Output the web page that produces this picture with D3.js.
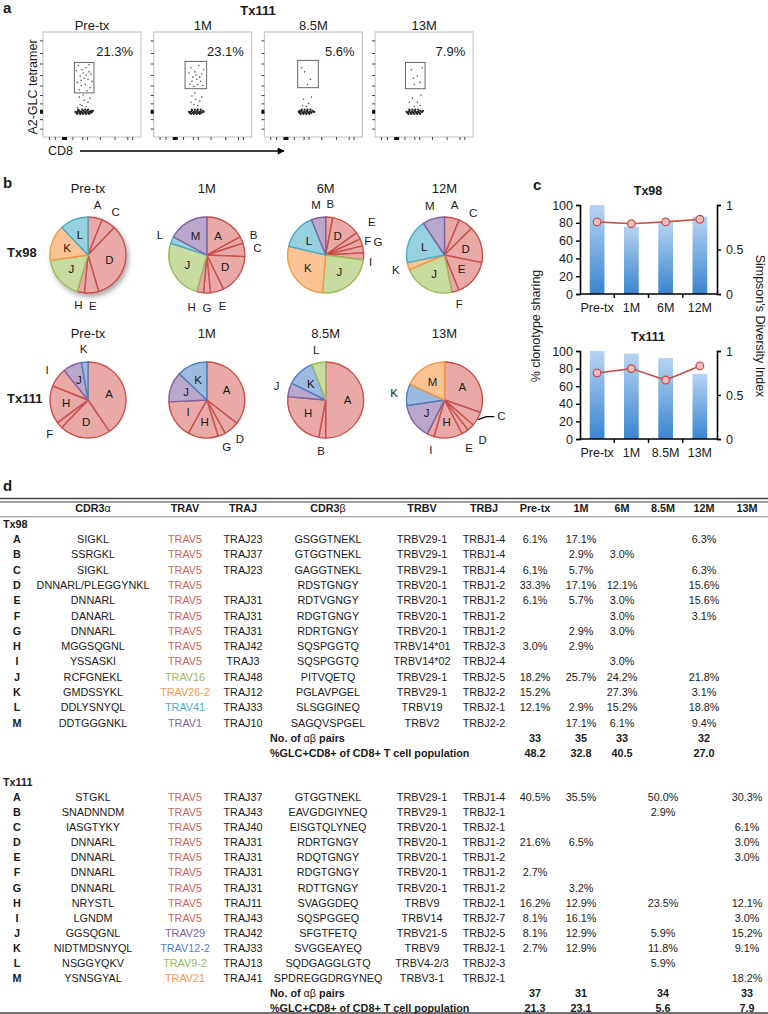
<!DOCTYPE html>
<html><head><meta charset="utf-8">
<script src="https://cdn.jsdelivr.net/npm/d3@7"></script>
<style>body{margin:0;background:#fff} svg{display:block;font-family:Arial,"Liberation Sans",sans-serif}</style>
</head><body><svg id="fig" width="768" height="1014"></svg>
<script>
// ---------------- DATA ----------------
// panel a (flow cytometry, Tx111)
const flowTimepoints = ["Pre-tx","1M","8.5M","13M"];
const flowPercents = ["21.3%","23.1%","5.6%","7.9%"];
const flowGates = [[32,52,42,71],[32,54,46,72],[34,55,47,73],[31,51,46,71]];
const flowYTicks = [8,17,24,32,40,49,59,70,80,92];
const flowXTicks = [6,12,22,30,40,45,58,73,86,91];
const dotsPreTx = [[36,68],[40,64],[44,66],[47,62],[38,58],[42,56],[46,55],[49,60],[35,52],[39,49],[43,50],[48,47],[37,45],[45,44],[41,61],[50,53],[44,59],[39,54],[34,63],[47,69],
 [37,38],[42,35],[46,33],[40,30],[44,29],[38,31],[48,37],[35,28],[41,40],
 [33,24],[34,23],[35,24],[36,25],[37,23],[38,24],[39,24],[40,23],[41,25],[42,24],[43,23],[44,24],[45,25],[46,23],[47,24],[48,24],[49,23],[50,24],[51,25],[35,22],[38,22],[41,22],[44,22],[47,22],[36,26],[40,26],[43,26],[46,26],[49,25],[37,25]];
const dots1M = [[38,66],[42,62],[46,68],[49,60],[40,57],[44,55],[48,53],[51,64],[37,50],[41,48],[45,50],[50,49],[43,59],[39,53],[47,57],[36,61],
 [39,39],[43,36],[47,34],[41,31],[45,30],[38,33],[49,38],[42,42],
 [36,24],[37,23],[38,24],[39,25],[40,23],[41,24],[42,24],[43,23],[44,25],[45,24],[46,23],[47,24],[48,24],[49,23],[50,25],[38,22],[41,22],[44,22],[47,22],[39,26],[42,26],[45,26],[48,26],[51,24]];
const dots85M = [[41,62],[47,55],[44,50],[38,66],
 [40,36],[45,32],[43,29],[48,38],[39,30],
 [35,24],[36,23],[37,24],[38,25],[39,23],[40,24],[41,24],[42,23],[43,25],[44,24],[45,23],[46,24],[47,24],[48,23],[49,25],[50,24],[37,22],[40,22],[43,22],[46,22],[38,26],[41,26],[44,26],[47,26],[51,24],[36,25]];
const dots13M = [[37,64],[43,58],[46,52],[40,50],[48,66],[39,56],
 [38,37],[43,33],[46,30],[40,29],[35,33],[47,40],
 [32,24],[33,23],[34,24],[35,25],[36,23],[37,24],[38,24],[39,23],[40,25],[41,24],[42,23],[43,24],[44,24],[45,23],[46,25],[47,24],[48,24],[34,22],[37,22],[40,22],[43,22],[46,22],[35,26],[38,26],[41,26],[44,26],[49,25]];

// panel d / b: clone table
const cloneLetters = ["A","B","C","D","E","F","G","H","I","J","K","L","M"];
const tx98Timepoints = ["Pre-tx","1M","6M","12M"];
const tx111Timepoints = ["Pre-tx","1M","8.5M","13M"];
const tableTimepoints = ["Pre-tx","1M","6M","8.5M","12M","13M"];

const tx98CDR3a = ["SIGKL","SSRGKL","SIGKL","DNNARL/PLEGGYNKL","DNNARL","DANARL","DNNARL","MGGSQGNL","YSSASKI","RCFGNEKL","GMDSSYKL","DDLYSNYQL","DDTGGGNKL"];
const tx98TRAV = ["TRAV5","TRAV5","TRAV5","TRAV5","TRAV5","TRAV5","TRAV5","TRAV5","TRAV5","TRAV16","TRAV26-2","TRAV41","TRAV1"];
const tx98TRAJ = ["TRAJ23","TRAJ37","TRAJ23","","TRAJ31","TRAJ31","TRAJ31","TRAJ42","TRAJ3","TRAJ48","TRAJ12","TRAJ33","TRAJ10"];
const tx98CDR3b = ["GSGGTNEKL","GTGGTNEKL","GAGGTNEKL","RDSTGNGY","RDTVGNGY","RDGTGNGY","RDRTGNGY","SQSPGGTQ","SQSPGGTQ","PITVQETQ","PGLAVPGEL","SLSGGINEQ","SAGQVSPGEL"];
const tx98TRBV = ["TRBV29-1","TRBV29-1","TRBV29-1","TRBV20-1","TRBV20-1","TRBV20-1","TRBV20-1","TRBV14*01","TRBV14*02","TRBV29-1","TRBV29-1","TRBV19","TRBV2"];
const tx98TRBJ = ["TRBJ1-4","TRBJ1-4","TRBJ1-4","TRBJ1-2","TRBJ1-2","TRBJ1-2","TRBJ1-2","TRBJ2-3","TRBJ2-4","TRBJ2-5","TRBJ2-2","TRBJ2-1","TRBJ2-2"];
const tx98PreTx = [6.1,null,6.1,33.3,6.1,null,null,3.0,null,18.2,15.2,12.1,null];
const tx98M1    = [17.1,2.9,5.7,17.1,5.7,null,2.9,2.9,null,25.7,null,2.9,17.1];
const tx98M6    = [null,3.0,null,12.1,3.0,3.0,3.0,null,3.0,24.2,27.3,15.2,6.1];
const tx98M12   = [6.3,null,6.3,15.6,15.6,3.1,null,null,null,21.8,3.1,18.8,9.4];
const tx98Pairs = [33,35,33,32];
const tx98GLC   = ["48.2","32.8","40.5","27.0"];

const tx111CDR3a = ["STGKL","SNADNNDM","IASGTYKY","DNNARL","DNNARL","DNNARL","DNNARL","NRYSTL","LGNDM","GGSQGNL","NIDTMDSNYQL","NSGGYQKV","YSNSGYAL"];
const tx111TRAV = ["TRAV5","TRAV5","TRAV5","TRAV5","TRAV5","TRAV5","TRAV5","TRAV5","TRAV5","TRAV29","TRAV12-2","TRAV9-2","TRAV21"];
const tx111TRAJ = ["TRAJ37","TRAJ43","TRAJ40","TRAJ31","TRAJ31","TRAJ31","TRAJ31","TRAJ11","TRAJ43","TRAJ42","TRAJ33","TRAJ13","TRAJ41"];
const tx111CDR3b = ["GTGGTNEKL","EAVGDGIYNEQ","EISGTQLYNEQ","RDRTGNGY","RDQTGNGY","RDGTGNGY","RDTTGNGY","SVAGGDEQ","SQSPGGEQ","SFGTFETQ","SVGGEAYEQ","SQDGAGGLGTQ","SPDREGGDRGYNEQ"];
const tx111TRBV = ["TRBV29-1","TRBV29-1","TRBV20-1","TRBV20-1","TRBV20-1","TRBV20-1","TRBV20-1","TRBV9","TRBV14","TRBV21-5","TRBV9","TRBV4-2/3","TRBV3-1"];
const tx111TRBJ = ["TRBJ1-4","TRBJ2-1","TRBJ2-1","TRBJ1-2","TRBJ1-2","TRBJ1-2","TRBJ1-2","TRBJ2-1","TRBJ2-7","TRBJ2-5","TRBJ2-1","TRBJ2-3","TRBJ2-1"];
const tx111PreTx = [40.5,null,null,21.6,null,2.7,null,16.2,8.1,8.1,2.7,null,null];
const tx111M1    = [35.5,null,null,6.5,null,null,3.2,12.9,16.1,12.9,12.9,null,null];
const tx111M85   = [50.0,2.9,null,null,null,null,null,23.5,null,5.9,11.8,5.9,null];
const tx111M13   = [30.3,null,6.1,3.0,3.0,null,null,12.1,3.0,15.2,9.1,null,18.2];
const tx111Pairs = [37,31,34,33];
const tx111GLC   = ["21.3","23.1","5.6","7.9"];

// panel c
const tx98Sharing  = [100,76,81,87];
const tx98Simpson  = [0.81,0.79,0.81,0.84];
const tx111Sharing = [100,97,92,74];
const tx111Simpson = [0.75,0.80,0.67,0.83];

// ---------------- STYLE ----------------
const travColors = {
  "TRAV5":   {fill:"#e8a9a7", stroke:"#c9504d", text:"#d0625e"},
  "TRAV16":  {fill:"#c8dca2", stroke:"#9bbb59", text:"#9bbb59"},
  "TRAV26-2":{fill:"#fbc495", stroke:"#f79646", text:"#f79646"},
  "TRAV41":  {fill:"#97d0de", stroke:"#4bacc6", text:"#4bacc6"},
  "TRAV1":   {fill:"#b9a8cc", stroke:"#8064a2", text:"#8064a2"},
  "TRAV29":  {fill:"#b9a8cc", stroke:"#8064a2", text:"#8064a2"},
  "TRAV12-2":{fill:"#9dbbe0", stroke:"#4f81bd", text:"#4f81bd"},
  "TRAV9-2": {fill:"#c8dca2", stroke:"#9bbb59", text:"#9bbb59"},
  "TRAV21":  {fill:"#fbc495", stroke:"#f79646", text:"#f79646"}
};
// small nudges for crowded outside pie labels (pixels)
const labelNudges = {
  "Tx98|1M|H":[-6,2], "Tx98|1M|G":[0,2], "Tx98|1M|E":[2,2],
  "Tx98|6M|E":[2,-7], "Tx98|6M|F":[-6,3], "Tx98|6M|G":[2,-5], "Tx98|6M|I":[-6,5],
  "Tx111|13M|D":[3,3], "Tx111|13M|E":[-3,5], "Tx111|13M|I":[5,3]
};
const ink = "#1a1a1a";
const svg = d3.select("#fig");
const defs = svg.append("defs");
defs.append("marker").attr("id","arrow").attr("viewBox","0 0 10 10").attr("refX",9).attr("refY",5)
  .attr("markerWidth",9).attr("markerHeight",7).attr("markerUnits","userSpaceOnUse").attr("orient","auto")
  .append("path").attr("d","M0,0 L10,5 L0,10 z").attr("fill","#000");
const grad = defs.append("linearGradient").attr("id","barGrad").attr("x1",0).attr("y1",0).attr("x2",0).attr("y2",1);
grad.append("stop").attr("offset","0%").attr("stop-color","#b6d4f2");
grad.append("stop").attr("offset","100%").attr("stop-color","#3a85cf");
const shadow = defs.append("filter").attr("id","shadow").attr("x","-30%").attr("y","-30%").attr("width","170%").attr("height","170%");
shadow.append("feDropShadow").attr("dx",2).attr("dy",3).attr("stdDeviation",2.5).attr("flood-color","#000").attr("flood-opacity",0.35);

function label(t,x,y,opts={}) {
  return svg.append("text").attr("x",x).attr("y",y).text(t)
    .attr("font-size",opts.size||13).attr("font-weight",opts.bold?"bold":"normal")
    .attr("text-anchor",opts.anchor||"start").attr("fill",opts.fill||ink);
}

// ---------------- PANEL A ----------------
label("a",3,13,{size:15,bold:true});
label("Tx111",258,15,{size:13,bold:true,anchor:"middle"});
const flowDots = [dotsPreTx,dots1M,dots85M,dots13M];
flowTimepoints.forEach((tp,i)=>{
  const x0 = 43 + i*110.7;
  const xs = d3.scaleLinear().domain([0,100]).range([x0,x0+98]);
  const ys = d3.scaleLinear().domain([0,100]).range([137,32]);
  const g = svg.append("g");
  g.append("rect").attr("x",xs(0)).attr("y",ys(100)).attr("width",xs(100)-xs(0)).attr("height",ys(0)-ys(100))
    .attr("fill","#fff").attr("stroke","#c8c8c8").attr("stroke-width",1.2);
  const ya = g.append("g").attr("transform",`translate(${x0},0)`).call(d3.axisLeft(ys).tickValues(flowYTicks).tickSize(3).tickFormat(""));
  const xa = g.append("g").attr("transform",`translate(0,137)`).call(d3.axisBottom(xs).tickValues(flowXTicks).tickSize(3).tickFormat(""));
  [ya,xa].forEach(a=>{a.select(".domain").remove(); a.selectAll("line").attr("stroke","#444");});
  g.append("rect").attr("x",x0-3).attr("y",ys(24)-2).attr("width",3).attr("height",4).attr("fill","#111");
  g.append("rect").attr("x",xs(22)-2.5).attr("y",137).attr("width",5).attr("height",3).attr("fill","#111");
  const gt = flowGates[i];
  g.append("rect").attr("x",xs(gt[0])).attr("y",ys(gt[3])).attr("width",xs(gt[1])-xs(gt[0])).attr("height",ys(gt[2])-ys(gt[3]))
    .attr("fill","none").attr("stroke","#666").attr("stroke-width",1);
  g.selectAll("circle").data(flowDots[i]).join("circle").attr("cx",d=>xs(d[0])).attr("cy",d=>ys(d[1]))
    .attr("r",d=>d[1]<28?1.1:0.8).attr("fill",d=>d[1]<28?"#222":"#555");
  label(tp,xs(50),30,{size:13,anchor:"middle"});
  label(flowPercents[i],xs(92),56,{size:13,anchor:"end"});
});
svg.append("text").attr("transform","translate(37,87) rotate(-90)").attr("text-anchor","middle")
  .attr("font-size",12.5).attr("fill",ink).text("A2-GLC tetramer");
label("CD8",48,155,{size:12.5});
svg.append("line").attr("x1",80).attr("x2",284).attr("y1",151).attr("y2",151).attr("stroke","#000").attr("stroke-width",1.6).attr("marker-end","url(#arrow)");

// ---------------- PANEL B ----------------
label("b",3,188,{size:15,bold:true});
label("Tx98",7,257,{size:13,bold:true});
label("Tx111",7,403,{size:13,bold:true});
const pieR = 38;
const pieX = d3.scalePoint().domain([0,1,2,3]).range([88,444.5]);
const insideOverride = ["Tx111|Pre-tx|J"];
const pieCallouts = ["Tx111|13M|C"];
function drawPies(patient, timepoints, freqSets, travs, cy) {
  const pie = d3.pie().sort(null).value(d=>d.v);
  const arc = d3.arc().innerRadius(0).outerRadius(pieR);
  timepoints.forEach((tp,i)=>{
    const cx = pieX(i);
    label(tp,cx,cy-62,{size:13,anchor:"middle"});
    const data = cloneLetters.map((c,k)=>({clone:c,v:freqSets[i][k],trav:travs[k]})).filter(d=>d.v!=null);
    const arcs = pie(data);
    const g = svg.append("g").attr("transform",`translate(${cx},${cy})`);
    const sg = g.append("g");
    if (patient==="Tx98" && i===0) sg.attr("filter","url(#shadow)");
    sg.selectAll("path").data(arcs).join("path").attr("d",arc)
      .attr("fill",d=>travColors[d.data.trav].fill).attr("stroke",d=>travColors[d.data.trav].stroke)
      .attr("stroke-width",1.4).attr("stroke-linejoin","round");
    arcs.forEach(a=>{
      const key = `${patient}|${tp}|${a.data.clone}`;
      const mid = (a.startAngle+a.endAngle)/2;
      const inside = a.data.v>=10 || insideOverride.includes(key);
      if (pieCallouts.includes(key)) {
        const ex = Math.sin(mid)*(pieR+1), ey = -Math.cos(mid)*(pieR+1);
        g.append("path").attr("d",`M${ex},${ey} L${ex+8},${ey-3} L${ex+16},${ey-3}`).attr("fill","none").attr("stroke","#000").attr("stroke-width",1.3);
        g.append("text").attr("x",ex+19).attr("y",ey-4).attr("dy","0.35em").attr("font-size",11.5).attr("fill",ink).text(a.data.clone);
        return;
      }
      const rr = inside ? pieR*0.58 : pieR+13;
      const nd = labelNudges[key] || [0,0];
      g.append("text").attr("x",Math.sin(mid)*rr+nd[0]).attr("y",-Math.cos(mid)*rr+nd[1]).attr("dy","0.35em")
        .attr("text-anchor","middle").attr("font-size",11.5).attr("fill",ink).text(a.data.clone);
    });
  });
}
drawPies("Tx98", tx98Timepoints, [tx98PreTx,tx98M1,tx98M6,tx98M12], tx98TRAV, 255);
drawPies("Tx111", tx111Timepoints, [tx111PreTx,tx111M1,tx111M85,tx111M13], tx111TRAV, 400);

// ---------------- PANEL C ----------------
label("c",533,190,{size:15,bold:true});
function combo(title, cats, share, simpson, top, bottom) {
  const x = d3.scaleBand().domain(cats).range([580,717]).paddingInner(0.57).paddingOuter(0.285);
  const y = d3.scaleLinear().domain([0,100]).range([bottom,top]);
  const y2 = d3.scaleLinear().domain([0,1]).range([bottom,top]);
  const g = svg.append("g");
  label(title,648,top-10,{size:12.5,bold:true,anchor:"middle"});
  g.selectAll("rect").data(cats).join("rect").attr("x",d=>x(d)).attr("width",x.bandwidth())
    .attr("y",(d,i)=>y(share[i])).attr("height",(d,i)=>bottom-y(share[i])).attr("fill","url(#barGrad)");
  const la = g.append("g").attr("transform","translate(580,0)").call(d3.axisLeft(y).tickValues([0,20,40,60,80,100]).tickSize(4).tickPadding(3));
  const ra = g.append("g").attr("transform","translate(717,0)").call(d3.axisRight(y2).tickValues([0,0.5,1]).tickSize(4).tickPadding(5).tickFormat(d3.format("")));
  [la,ra].forEach(a=>{a.select(".domain").attr("stroke","#000").attr("stroke-width",1.6);
    a.selectAll("line").attr("stroke","#000").attr("stroke-width",1.4);
    a.selectAll("text").attr("font-size",12.5).attr("fill",ink).attr("font-family","Arial,'Liberation Sans',sans-serif");});
  g.append("line").attr("x1",580).attr("x2",717).attr("y1",bottom).attr("y2",bottom).attr("stroke","#000").attr("stroke-width",1.6);
  const step = x.step();
  d3.range(1,cats.length).forEach(k=>{
    g.append("line").attr("x1",580+k*step).attr("x2",580+k*step).attr("y1",bottom).attr("y2",bottom+4).attr("stroke","#000").attr("stroke-width",1.4);
  });
  cats.forEach(c=>{
    g.append("text").attr("x",x(c)+x.bandwidth()/2).attr("y",bottom+18).attr("text-anchor","middle").attr("font-size",12.5).attr("fill",ink).text(c);
  });
  const line = d3.line().x((d,i)=>x(cats[i])+x.bandwidth()/2).y(d=>y2(d));
  g.append("path").datum(simpson).attr("d",line).attr("fill","none").attr("stroke","#c9504d").attr("stroke-width",1.6);
  g.selectAll("circle").data(simpson).join("circle").attr("cx",(d,i)=>x(cats[i])+x.bandwidth()/2).attr("cy",d=>y2(d))
    .attr("r",3.8).attr("fill","#f0c0bf").attr("stroke","#c9504d").attr("stroke-width",1.3);
}
combo("Tx98", tx98Timepoints, tx98Sharing, tx98Simpson, 205, 294);
combo("Tx111", tx111Timepoints, tx111Sharing, tx111Simpson, 351, 439);
svg.append("text").attr("transform","translate(540,326) rotate(-90)").attr("text-anchor","middle")
  .attr("font-size",12.5).attr("fill",ink).text("% clonotype sharing");
svg.append("text").attr("transform","translate(756,326) rotate(90)").attr("text-anchor","middle")
  .attr("font-size",12.5).attr("fill",ink).text("Simpson's Diversity Index");

// ---------------- PANEL D ----------------
label("d",3,491,{size:15,bold:true});
const tfs = 10.8;
const colX = {letter:17,cdr3a:93,trav:185,traj:243,cdr3b:328,trbv:422,trbj:484,
  "Pre-tx":535,"1M":581,"6M":622,"8.5M":663,"12M":704,"13M":747};
svg.append("line").attr("x1",0).attr("x2",768).attr("y1",498.5).attr("y2",498.5).attr("stroke","#444").attr("stroke-width",1.4);
svg.append("line").attr("x1",0).attr("x2",768).attr("y1",502).attr("y2",502).attr("stroke","#444").attr("stroke-width",1.2);
svg.append("line").attr("x1",0).attr("x2",768).attr("y1",516.8).attr("y2",516.8).attr("stroke","#888").attr("stroke-width",1);
svg.append("line").attr("x1",0).attr("x2",768).attr("y1",1013).attr("y2",1013).attr("stroke","#444").attr("stroke-width",1.6);

function cell(t,x,y,opts={}) {
  return svg.append("text").attr("x",x).attr("y",y).attr("dy","0.36em").text(t)
    .attr("font-size",tfs).attr("font-weight",opts.bold?"bold":"normal")
    .attr("text-anchor",opts.anchor||"middle").attr("fill",opts.fill||ink);
}
// header
const hy = 508.5;
const h1 = cell("CDR3",colX.cdr3a,hy,{bold:true}); h1.append("tspan").attr("font-weight","normal").text("α");
cell("TRAV",colX.trav,hy,{bold:true});
cell("TRAJ",colX.traj,hy,{bold:true});
const h2 = cell("CDR3",colX.cdr3b,hy,{bold:true}); h2.append("tspan").attr("font-weight","normal").text("β");
cell("TRBV",colX.trbv,hy,{bold:true});
cell("TRBJ",colX.trbj,hy,{bold:true});
tableTimepoints.forEach(tp=>cell(tp,colX[tp],hy,{bold:true}));

function tableBlock(name, y0, pitch, cdr3a, trav, traj, cdr3b, trbv, trbj, timepoints, freqSets, pairs, glc) {
  cell(name,3,y0,{bold:true,anchor:"start"});
  cloneLetters.forEach((c,k)=>{
    const y = y0 + (k+1)*pitch;
    cell(c,colX.letter,y,{bold:true});
    cell(cdr3a[k],colX.cdr3a,y);
    cell(trav[k],colX.trav,y,{fill:travColors[trav[k]].text});
    cell(traj[k],colX.traj,y);
    cell(cdr3b[k],colX.cdr3b,y);
    cell(trbv[k],colX.trbv,y);
    cell(trbj[k],colX.trbj,y);
    timepoints.forEach((tp,i)=>{ const v = freqSets[i][k]; if (v!=null) cell(v.toFixed(1)+"%",colX[tp],y); });
  });
  const yp = y0 + 14*pitch, yg = y0 + 15*pitch;
  const t1 = cell("No. of ",270,yp,{bold:true,anchor:"start"}); t1.append("tspan").attr("font-weight","normal").text("αβ"); t1.append("tspan").text(" pairs");
  cell("%GLC+CD8+ of CD8+ T cell population",270,yg,{bold:true,anchor:"start"});
  timepoints.forEach((tp,i)=>{ cell(String(pairs[i]),colX[tp],yp,{bold:true}); cell(glc[i],colX[tp],yg,{bold:true}); });
}
tableBlock("Tx98",524,15.28,tx98CDR3a,tx98TRAV,tx98TRAJ,tx98CDR3b,tx98TRBV,tx98TRBJ,tx98Timepoints,[tx98PreTx,tx98M1,tx98M6,tx98M12],tx98Pairs,tx98GLC);
tableBlock("Tx111",782,15.1,tx111CDR3a,tx111TRAV,tx111TRAJ,tx111CDR3b,tx111TRBV,tx111TRBJ,tx111Timepoints,[tx111PreTx,tx111M1,tx111M85,tx111M13],tx111Pairs,tx111GLC);
</script>
</body></html>
